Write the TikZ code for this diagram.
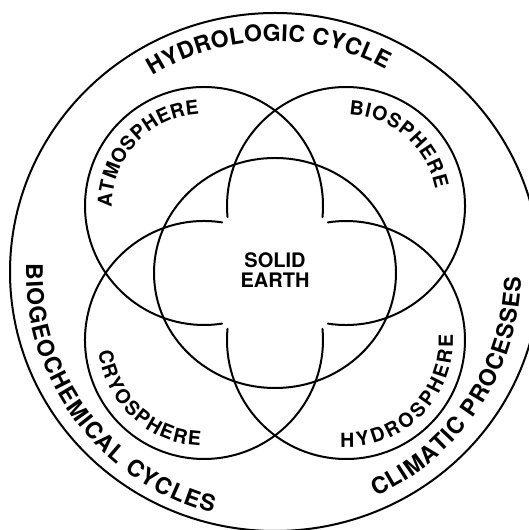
\documentclass[tikz,border=0pt]{standalone}
\usepackage{fontspec}
\setmainfont{TeX Gyre Heros}
\usetikzlibrary{decorations.text}
\newcommand{\hcOuterFont}{\bfseries\fontsize{23}{23}\selectfont}
\newcommand{\hcInnerFont}{\bfseries\fontsize{19.5}{19.5}\selectfont}
\begin{document}
\begin{tikzpicture}[x=1pt,y=1pt,
  ring/.style={line width=2pt, line cap=round},
  curvedtext/.style={decorate, decoration={text along path, text align={fit to path}, text={#1}}}]
\useasboundingbox (0,0) rectangle (529,530);
% centres
\coordinate (O) at (275,258);
\coordinate (C) at (275,257);
\coordinate (atm) at (204,324);
\coordinate (bio) at (346,324);
\coordinate (cryo) at (204,190);
\coordinate (hyd) at (346,190);
% outer ring (clipped by page)
\begin{scope}
\clip (0,0) rectangle (529,530);
\draw[ring] (O) ellipse [x radius=265, y radius=259];
\end{scope}
% solid earth
\draw[ring] (C) ellipse [x radius=121, y radius=115];
% four spheres, open where they bound the common centre
\draw[ring] ([shift={(-5.4:119)}]atm) arc[start angle=-5.4, end angle=278.8, radius=119];
\draw[ring] ([shift={(261.2:119)}]bio) arc[start angle=261.2, end angle=545.4, radius=119];
\draw[ring] ([shift={(81.2:119)}]cryo) arc[start angle=81.2, end angle=365.4, radius=119];
\draw[ring] ([shift={(174.6:119)}]hyd) arc[start angle=174.6, end angle=458.8, radius=119];
% centre label
\node[font=\bfseries\fontsize{20}{20}\selectfont, align=center, inner sep=0pt] (solid) at (275,260) {SOLID\\EARTH};
% outer texts
\path[curvedtext={|\hcOuterFont|HYDROLOGIC CYCLE}] ([shift={(122:231)}]O) arc[start angle=122, end angle=61.4, radius=231];
\path[curvedtext={|\hcOuterFont|BIOGEOCHEMICAL CYCLES}] ([shift={(178:249)}]O) arc[start angle=178, end angle=255.5, radius=249];
\path[curvedtext={|\hcOuterFont|CLIMATIC PROCESSES}] ([shift={(-65.8:246)}]O) arc[start angle=-65.8, end angle=-1.2, radius=246];
% inner texts
\path[curvedtext={|\hcInnerFont|ATMOSPHERE}] ([shift={(181:92)}]atm) arc[start angle=181, end angle=93, radius=92];
\path[curvedtext={|\hcInnerFont|BIOSPHERE}] ([shift={(88:91)}]bio) arc[start angle=88, end angle=11, radius=91];
\path[curvedtext={|\hcInnerFont|CRYOSPHERE}] ([shift={(186:106)}]cryo) arc[start angle=186, end angle=268, radius=106];
\path[curvedtext={|\hcInnerFont|HYDROSPHERE}] ([shift={(267:107)}]hyd) arc[start angle=267, end angle=363, radius=107];
\end{tikzpicture}
\end{document}
